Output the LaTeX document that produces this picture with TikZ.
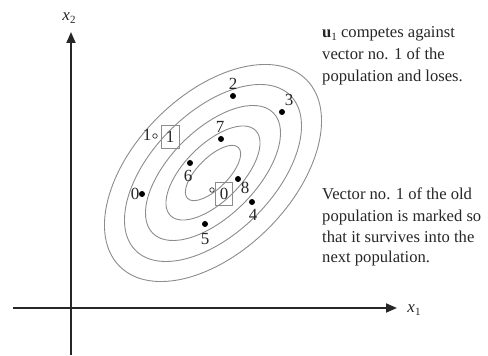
\documentclass[tikz,border=0pt]{standalone}
\usepackage{fontspec}
\setmainfont{Liberation Serif}
\usetikzlibrary{arrows.meta}
\newcommand{\lowidx}[1]{\raisebox{-0.35ex}{\fontsize{11}{11}\selectfont #1}}
\begin{document}
\begin{tikzpicture}[x=1pt,y=1pt,
  axis/.style={line width=1.8pt,color=black!85,-{Triangle[length=11pt,width=9pt]}},
  contour/.style={draw=black!45,line width=0.9pt},
  pt/.style={circle,fill=black,inner sep=0pt,minimum size=6pt},
  opt/.style={circle,draw=black!80,line width=0.7pt,inner sep=0pt,minimum size=4.5pt},
  lbl/.style={inner sep=0pt,font=\fontsize{17}{20}\selectfont,text=black!85},
  boxlbl/.style={draw=black!45,line width=0.8pt,inner sep=0pt,minimum width=18pt,minimum height=23pt,font=\fontsize{17}{20}\selectfont,text=black!85},
  txt/.style={inner sep=0pt,anchor=base west,font=\fontsize{16.6}{21}\selectfont,text=black!85}]
\useasboundingbox (0,0) rectangle (488,356);
% axes
\coordinate (vb) at (71,1);
\coordinate (vt) at (71,324);
\coordinate (hl) at (13,48);
\coordinate (hr) at (397,48);
\draw[axis] (vb) -- (vt);
\draw[axis] (hl) -- (hr);
\node[lbl,font=\fontsize{17}{20}\selectfont\itshape] (x2) at (69,338) {x\lowidx{\upshape 2}};
\node[lbl,font=\fontsize{17}{20}\selectfont\itshape] (x1) at (414,46) {x\lowidx{\upshape 1}};
% contours
\coordinate (c) at (213,183);
\foreach \a/\b in {36/15.3, 60.2/28.3, 85.2/43.1, 109.5/60.6, 132/78.3}{
  \draw[contour,rotate around={45:(c)}] (c) ellipse [x radius=\a, y radius=\b];
}
% points
\node[pt] (p2) at (233,260) {};
\node[lbl] (l2) at (233,272) {2};
\node[pt] (p3) at (282,244) {};
\node[lbl] (l3) at (289,256) {3};
\node[pt] (p7) at (221,217) {};
\node[lbl] (l7) at (220,229) {7};
\node[pt] (p6) at (190,193) {};
\node[lbl] (l6) at (188,180) {6};
\node[pt] (p8) at (238,177) {};
\node[lbl] (l8) at (245,168) {8};
\node[pt] (p4) at (252,154) {};
\node[lbl] (l4) at (253,141) {4};
\node[pt] (p5) at (205,132) {};
\node[lbl] (l5) at (205,117) {5};
\node[pt] (p0) at (142,162) {};
\node[lbl] (l0) at (135,162) {0};
\node[opt] (o1) at (155,220) {};
\node[lbl] (lo1) at (147,221) {1};
\node[boxlbl] (b1) at (170,219.5) {1};
\node[opt] (o0) at (212,166) {};
\node[boxlbl,minimum width=17pt] (b0) at (224,162.5) {0};
% texts
\node[txt] (t1) at (322,318) {{\bfseries u}\lowidx{1} competes against};
\node[txt] (t2) at (322,296) {vector no. 1 of the};
\node[txt] (t3) at (322,274) {population and loses.};
\node[txt] (t4) at (322,156) {Vector no. 1 of the old};
\node[txt] (t5) at (322,134) {population is marked so};
\node[txt] (t6) at (322,113) {that it survives into the};
\node[txt] (t7) at (322,93) {next population.};
\end{tikzpicture}
\end{document}
